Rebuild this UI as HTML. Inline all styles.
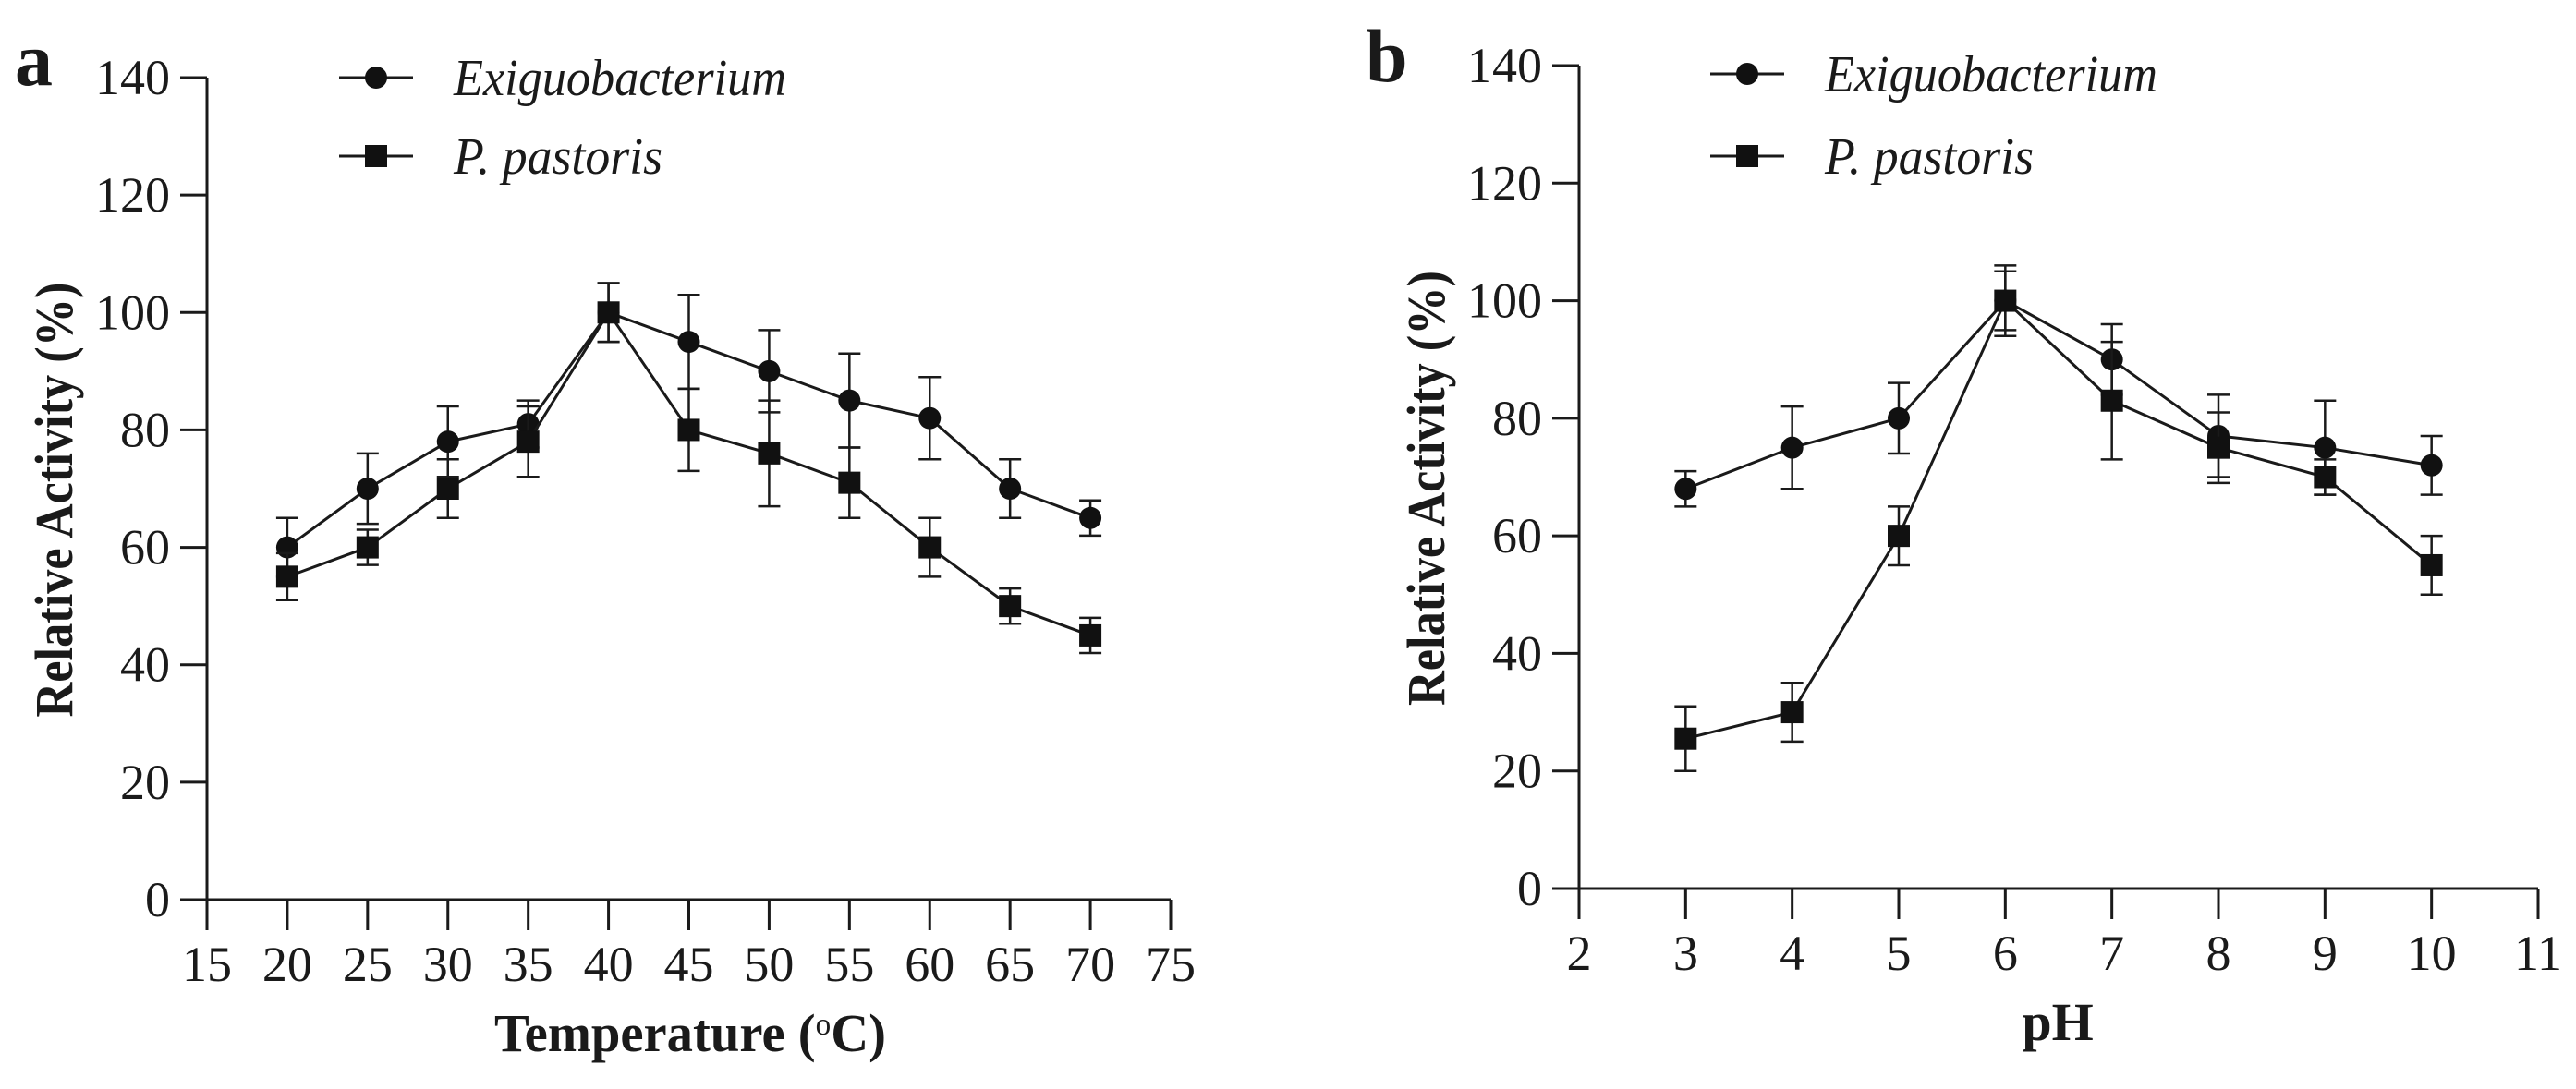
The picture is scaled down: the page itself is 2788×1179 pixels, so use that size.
<!DOCTYPE html>
<html><head><meta charset="utf-8"><style>
html,body{margin:0;padding:0;background:#fff;}
svg{display:block;}
text{font-family:"Liberation Serif",serif;fill:#1a1a1a;}
</style></head><body>
<svg id="fig" width="2788" height="1179" viewBox="0 0 2788 1179" xmlns="http://www.w3.org/2000/svg"></svg>
<script>
const tempCats=[20,25,30,35,40,45,50,55,60,65,70];
const tempExig=[60,70,78,81,100,95,90,85,82,70,65];
const tempExigErr=[5,6,6,4,5,8,7,8,7,5,3];
const tempPp=[55,60,70,78,100,80,76,71,60,50,45];
const tempPpErr=[4,3,5,6,5,7,9,6,5,3,3];
const tempTicks=[15,20,25,30,35,40,45,50,55,60,65,70,75];
const phCats=[3,4,5,6,7,8,9,10];
const phExig=[68,75,80,100,90,77,75,72];
const phExigErr=[3,7,6,6,6,7,8,5];
const phPp=[25.5,30,60,100,83,75,70,55];
const phPpErr=[5.5,5,5,5,10,6,3,5];
const phTicks=[2,3,4,5,6,7,8,9,10,11];
const yTicks=[0,20,40,60,80,100,120,140];

const NS='http://www.w3.org/2000/svg';
const svg=document.getElementById('fig');
function mk(tag,attrs,parent){const e=document.createElementNS(NS,tag);for(const k in attrs)e.setAttribute(k,attrs[k]);(parent||svg).appendChild(e);return e;}

function panel(cfg){
  const g=mk('g',{});
  
  
  const xs=v=>cfg.x0+(v-cfg.xmin)/(cfg.xmax-cfg.xmin)*(cfg.x1-cfg.x0);
  const ys=v=>cfg.y0+(v/140)*(cfg.y1-cfg.y0);
  const st={stroke:'#1a1a1a','stroke-width':3,fill:'none'};
  const ya=mk('line',Object.assign({x1:cfg.x0,y1:cfg.y0,x2:cfg.x0,y2:cfg.y1},st),g);
  
  const xa=mk('line',Object.assign({x1:cfg.x0-29,y1:cfg.y0,x2:cfg.x1,y2:cfg.y0},st),g);
  
  yTicks.forEach(v=>{
    const y=ys(v);
    const t=mk('line',Object.assign({x1:cfg.x0-29,y1:y,x2:cfg.x0,y2:y},st),g);
    
    const l=mk('text',{x:cfg.x0-40,y:y+18,'text-anchor':'end','font-size':54},g);
    l.textContent=v;
    
  });
  cfg.ticks.forEach(v=>{
    const x=xs(v);
    const t=mk('line',Object.assign({x1:x,y1:cfg.y0,x2:x,y2:cfg.y0+33},st),g);
    
    const l=mk('text',{x:x,y:cfg.y0+88,'text-anchor':'middle','font-size':54},g);
    l.textContent=v;
    
  });
  function series(vals,errs,shape,nm){
    const sg=mk('g',{},g);
    
    const pts=cfg.cats.map((c,i)=>xs(c)+','+ys(vals[i])).join(' ');
    const pl=mk('polyline',Object.assign({points:pts},st),sg);
    
    cfg.cats.forEach((c,i)=>{
      const x=xs(c),yt=ys(vals[i]+errs[i]),yb=ys(vals[i]-errs[i]);
      const eb=mk('path',Object.assign({d:`M${x},${yt}V${yb}M${x-12},${yt}H${x+12}M${x-12},${yb}H${x+12}`},st,{'stroke-width':2.5}),sg);
      
      let m;
      if(shape==='c') m=mk('circle',{cx:x,cy:ys(vals[i]),r:12,fill:'#111'},sg);
      else m=mk('rect',{x:x-12,y:ys(vals[i])-12,width:24,height:24,fill:'#111'},sg);
      
    });
  }
  series(cfg.exig,cfg.exigErr,'c','series-exiguobacterium');
  series(cfg.pp,cfg.ppErr,'s','series-p-pastoris');
  const lg=mk('g',{},g);
  
  [['c','Exiguobacterium',cfg.leg[1],360],['s','P. pastoris',cfg.leg[2],226]].forEach(([s,txt,y,w])=>{
    const lx=cfg.leg[0];
    const e=mk('g',{},lg);
    
    mk('line',Object.assign({x1:lx,y1:y,x2:lx+80,y2:y},st),e);
    if(s==='c') mk('circle',{cx:lx+40,cy:y,r:12,fill:'#111'},e);
    else mk('rect',{x:lx+28,y:y-12,width:24,height:24,fill:'#111'},e);
    const t=mk('text',{x:lx+124,y:y+19,'font-size':56,'font-style':'italic',textLength:w,lengthAdjust:'spacingAndGlyphs'},e);
    t.textContent=txt;
  });
  const yt=mk('text',{x:0,y:0,'text-anchor':'middle','font-size':58,'font-weight':'bold',textLength:471,lengthAdjust:'spacingAndGlyphs',transform:`translate(${cfg.ytx},${(cfg.y0+cfg.y1)/2+12}) rotate(-90)`},g);
  yt.textContent='Relative Activity (%)';
  
  const xtAttrs={x:cfg.xtx,y:cfg.y0+164,'text-anchor':'middle','font-size':58,'font-weight':'bold'};
  if(cfg.xtw){xtAttrs.textLength=cfg.xtw;xtAttrs.lengthAdjust='spacingAndGlyphs';}
  const xt=mk('text',xtAttrs,g);
  xt.innerHTML=cfg.xtitle;
  
  const pl=mk('text',{x:cfg.lab[0],y:cfg.lab[1],'font-size':82,'font-weight':'bold'},g);
  pl.textContent=cfg.label;
  
}

panel({name:'panel-a-temperature',x0:224,x1:1267,xmin:15,xmax:75,y0:974,y1:84,ticks:tempTicks,cats:tempCats,
  exig:tempExig,exigErr:tempExigErr,pp:tempPp,ppErr:tempPpErr,leg:[367,84,169],ytx:78,xtx:747,xtw:424,
  xtitle:'Temperature (<tspan baseline-shift="super" font-size="34" font-weight="normal">o</tspan>C)',label:'a',lab:[16,92]});
panel({name:'panel-b-ph',x0:1709,x1:2747,xmin:2,xmax:11,y0:962,y1:71,ticks:phTicks,cats:phCats,
  exig:phExig,exigErr:phExigErr,pp:phPp,ppErr:phPpErr,leg:[1851,80,169],ytx:1563,xtx:2227,
  xtitle:'pH',label:'b',lab:[1478,88]});
</script>
</body></html>
